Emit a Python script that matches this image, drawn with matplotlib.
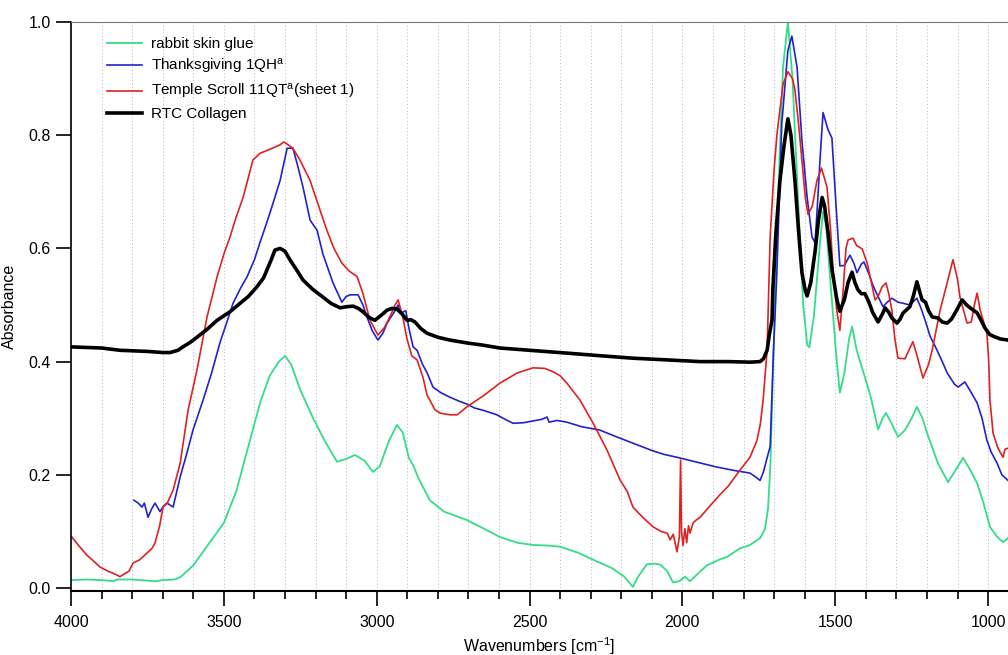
import numpy as np
import matplotlib.pyplot as plt
from matplotlib.ticker import MultipleLocator, FormatStrFormatter
plt.switch_backend('agg')

plt.rcParams['font.family'] = ['Liberation Sans', 'DejaVu Sans']
plt.rcParams['mathtext.fontset'] = 'custom'
plt.rcParams['mathtext.rm'] = 'Liberation Sans'
plt.rcParams['mathtext.it'] = 'Liberation Sans'

# rabbit skin glue
glue_w = [4000, 3950, 3900, 3860, 3850, 3800, 3750, 3720, 3700, 3660, 3640, 3600, 3560, 3520,
          3500, 3460, 3430, 3405, 3380, 3350, 3320, 3300, 3280, 3250, 3208, 3170, 3130, 3100,
          3071, 3040, 3012, 2990, 2960, 2934, 2915, 2895, 2881, 2860, 2826, 2780, 2705, 2650,
          2597, 2540, 2489, 2440, 2400, 2340, 2292, 2230, 2190, 2162, 2145, 2116, 2090, 2072,
          2050, 2031, 2010, 1992, 1975, 1960, 1920, 1880, 1854, 1812, 1779, 1746, 1730, 1720,
          1712, 1702, 1687, 1671, 1655, 1640, 1622, 1605, 1592, 1585, 1570, 1550, 1540, 1530,
          1510, 1495, 1485, 1470, 1455, 1445, 1430, 1409, 1385, 1360, 1345, 1334, 1315, 1295,
          1272, 1250, 1233, 1215, 1200, 1164, 1131, 1110, 1082, 1060, 1036, 1015, 994, 970,
          951, 935]
glue_a = [0.014, 0.015, 0.014, 0.012, 0.015, 0.015, 0.013, 0.012, 0.014, 0.015, 0.02, 0.04, 0.07, 0.10,
          0.115, 0.17, 0.23, 0.28, 0.33, 0.375, 0.40, 0.41, 0.395, 0.35, 0.30, 0.26, 0.223, 0.228,
          0.235, 0.225, 0.205, 0.215, 0.26, 0.288, 0.275, 0.23, 0.217, 0.19, 0.155, 0.135, 0.12, 0.105,
          0.09, 0.08, 0.076, 0.075, 0.073, 0.062, 0.05, 0.035, 0.02, 0.002, 0.02, 0.042, 0.043, 0.041,
          0.03, 0.01, 0.012, 0.02, 0.012, 0.02, 0.04, 0.05, 0.055, 0.07, 0.076, 0.088, 0.104, 0.14,
          0.22, 0.42, 0.69, 0.92, 1.0, 0.90, 0.69, 0.50, 0.43, 0.425, 0.48, 0.61, 0.665, 0.64,
          0.50, 0.40, 0.345, 0.38, 0.44, 0.462, 0.42, 0.383, 0.34, 0.28, 0.30, 0.309, 0.29, 0.267,
          0.279, 0.30, 0.32, 0.30, 0.274, 0.22, 0.187, 0.205, 0.23, 0.21, 0.185, 0.15, 0.108, 0.09,
          0.081, 0.088]

# Thanksgiving 1QH
qh_w = [3794, 3780, 3768, 3760, 3748, 3736, 3725, 3709, 3697, 3686, 3666, 3643, 3620, 3601,
        3568, 3540, 3513, 3490, 3470, 3445, 3424, 3400, 3382, 3360, 3339, 3316, 3293, 3274,
        3258, 3241, 3218, 3195, 3176, 3143, 3114, 3100, 3087, 3061, 3045, 3032, 3015, 2996,
        2980, 2966, 2940, 2930, 2920, 2905, 2895, 2881, 2868, 2850, 2835, 2816, 2790, 2760,
        2730, 2705, 2680, 2652, 2607, 2580, 2554, 2520, 2490, 2460, 2443, 2436, 2410, 2378,
        2330, 2270, 2220, 2162, 2100, 2060, 2018, 1980, 1942, 1890, 1834, 1800, 1779, 1760,
        1746, 1735, 1723, 1713, 1702, 1691, 1675, 1655, 1642, 1625, 1609, 1592, 1576, 1566,
        1558, 1550, 1540, 1524, 1511, 1498, 1485, 1470, 1452, 1440, 1429, 1415, 1406, 1390,
        1377, 1360, 1344, 1330, 1315, 1295, 1278, 1256, 1233, 1220, 1206, 1190, 1167, 1150,
        1134, 1110, 1098, 1076, 1055, 1036, 1020, 1004, 990, 971, 955, 935]
qh_a = [0.155, 0.15, 0.143, 0.15, 0.125, 0.14, 0.15, 0.135, 0.145, 0.15, 0.143, 0.196, 0.24, 0.279,
        0.332, 0.38, 0.433, 0.47, 0.503, 0.53, 0.55, 0.58, 0.61, 0.645, 0.68, 0.72, 0.777, 0.777,
        0.745, 0.708, 0.65, 0.632, 0.59, 0.539, 0.505, 0.515, 0.518, 0.518, 0.50, 0.479, 0.455, 0.438,
        0.45, 0.468, 0.49, 0.50, 0.486, 0.49, 0.46, 0.426, 0.42, 0.395, 0.38, 0.355, 0.345, 0.337,
        0.33, 0.325, 0.318, 0.314, 0.306, 0.298, 0.291, 0.292, 0.295, 0.298, 0.302, 0.293, 0.296, 0.293,
        0.285, 0.279, 0.268, 0.256, 0.243, 0.236, 0.231, 0.226, 0.221, 0.214, 0.208, 0.205, 0.203, 0.196,
        0.19, 0.205, 0.23, 0.25, 0.42, 0.557, 0.82, 0.95, 0.975, 0.92, 0.79, 0.69, 0.62, 0.61,
        0.68, 0.756, 0.84, 0.81, 0.795, 0.68, 0.569, 0.57, 0.588, 0.575, 0.557, 0.572, 0.576, 0.555,
        0.535, 0.515, 0.497, 0.505, 0.512, 0.505, 0.503, 0.50, 0.512, 0.495, 0.473, 0.445, 0.42, 0.40,
        0.38, 0.36, 0.355, 0.364, 0.345, 0.327, 0.30, 0.261, 0.24, 0.221, 0.20, 0.19]

# Temple Scroll 11QT (sheet 1)
qt_w = [3997, 3975, 3948, 3925, 3905, 3880, 3850, 3840, 3825, 3810, 3797, 3775, 3751, 3735,
        3725, 3710, 3699, 3685, 3666, 3643, 3617, 3588, 3555, 3522, 3500, 3480, 3460, 3437,
        3420, 3405, 3382, 3350, 3316, 3305, 3295, 3274, 3250, 3218, 3190, 3163, 3140, 3114,
        3090, 3064, 3045, 3022, 2996, 2975, 2957, 2940, 2930, 2915, 2901, 2885, 2868, 2849,
        2835, 2826, 2810, 2793, 2760, 2737, 2705, 2650, 2597, 2540, 2489, 2450, 2423, 2400,
        2378, 2335, 2292, 2247, 2204, 2180, 2162, 2130, 2096, 2070, 2050, 2040, 2030, 2022,
        2018, 2010, 2006, 2003, 1998, 1992, 1986, 1980, 1975, 1965, 1955, 1942, 1910, 1877,
        1850, 1812, 1779, 1756, 1745, 1736, 1723, 1713, 1700, 1691, 1671, 1655, 1640, 1632,
        1620, 1609, 1598, 1589, 1575, 1560, 1545, 1527, 1515, 1507, 1495, 1485, 1475, 1465,
        1458, 1442, 1430, 1412, 1396, 1380, 1370, 1360, 1347, 1334, 1325, 1315, 1305, 1295,
        1272, 1255, 1246, 1235, 1213, 1195, 1183, 1157, 1134, 1115, 1100, 1092, 1069, 1055,
        1045, 1036, 1026, 1004, 998, 994, 984, 970, 961, 951, 945, 935]
qt_a = [0.09, 0.075, 0.058, 0.047, 0.037, 0.03, 0.023, 0.02, 0.025, 0.03, 0.044, 0.05, 0.062, 0.07,
        0.08, 0.11, 0.143, 0.15, 0.173, 0.22, 0.314, 0.385, 0.479, 0.55, 0.59, 0.62, 0.655, 0.69,
        0.725, 0.756, 0.768, 0.775, 0.783, 0.788, 0.785, 0.777, 0.755, 0.72, 0.675, 0.632, 0.60, 0.574,
        0.56, 0.55, 0.52, 0.473, 0.447, 0.46, 0.479, 0.50, 0.509, 0.48, 0.44, 0.41, 0.403, 0.373,
        0.34, 0.332, 0.315, 0.309, 0.306, 0.306, 0.32, 0.34, 0.362, 0.38, 0.389, 0.388, 0.382, 0.375,
        0.362, 0.332, 0.291, 0.244, 0.191, 0.17, 0.143, 0.125, 0.108, 0.10, 0.097, 0.085, 0.095, 0.075,
        0.064, 0.09, 0.226, 0.10, 0.075, 0.105, 0.08, 0.11, 0.097, 0.115, 0.12, 0.125, 0.145, 0.165,
        0.18, 0.208, 0.231, 0.261, 0.29, 0.332, 0.42, 0.62, 0.74, 0.80, 0.89, 0.912, 0.90, 0.88,
        0.82, 0.756, 0.69, 0.66, 0.675, 0.72, 0.742, 0.708, 0.63, 0.557, 0.49, 0.455, 0.52, 0.60,
        0.615, 0.618, 0.605, 0.599, 0.575, 0.535, 0.509, 0.515, 0.532, 0.539, 0.52, 0.491, 0.44, 0.406,
        0.405, 0.425, 0.435, 0.415, 0.371, 0.395, 0.42, 0.491, 0.539, 0.58, 0.545, 0.514, 0.468, 0.47,
        0.50, 0.521, 0.491, 0.45, 0.40, 0.332, 0.274, 0.25, 0.24, 0.231, 0.245, 0.247]

# RTC Collagen
rtc_w = [4000, 3900, 3840, 3750, 3700, 3676, 3650, 3634, 3610, 3588, 3555, 3522, 3480, 3447,
         3420, 3392, 3370, 3359, 3345, 3333, 3316, 3300, 3284, 3262, 3241, 3210, 3176, 3150,
         3120, 3098, 3077, 3060, 3045, 3025, 3006, 2985, 2966, 2950, 2934, 2915, 2901, 2888,
         2875, 2855, 2835, 2800, 2760, 2705, 2652, 2597, 2500, 2378, 2260, 2162, 2050, 1942,
         1850, 1779, 1746, 1735, 1723, 1715, 1707, 1704, 1695, 1681, 1668, 1655, 1645, 1632,
         1620, 1609, 1598, 1592, 1580, 1566, 1555, 1543, 1535, 1524, 1510, 1495, 1485, 1470,
         1458, 1445, 1436, 1426, 1415, 1403, 1390, 1377, 1360, 1345, 1337, 1325, 1315, 1298,
         1288, 1278, 1256, 1245, 1233, 1222, 1216, 1205, 1195, 1183, 1164, 1150, 1134, 1120,
         1108, 1085, 1070, 1059, 1046, 1036, 1025, 1010, 995, 984, 960, 935]
rtc_a = [0.426, 0.424, 0.42, 0.418, 0.416, 0.416, 0.42, 0.426, 0.434, 0.443, 0.457, 0.473, 0.488, 0.503,
         0.515, 0.532, 0.548, 0.562, 0.58, 0.597, 0.60, 0.595, 0.58, 0.562, 0.544, 0.528, 0.514, 0.503,
         0.495, 0.497, 0.498, 0.494, 0.488, 0.478, 0.473, 0.482, 0.491, 0.494, 0.493, 0.483, 0.473, 0.474,
         0.47, 0.458, 0.45, 0.443, 0.438, 0.433, 0.429, 0.424, 0.42, 0.415, 0.41, 0.406, 0.403, 0.40,
         0.40, 0.399, 0.40, 0.405, 0.42, 0.45, 0.473, 0.53, 0.62, 0.72, 0.78, 0.829, 0.80, 0.72,
         0.63, 0.557, 0.525, 0.516, 0.54, 0.595, 0.65, 0.69, 0.675, 0.629, 0.56, 0.51, 0.489, 0.51,
         0.54, 0.558, 0.54, 0.527, 0.52, 0.52, 0.505, 0.486, 0.47, 0.485, 0.495, 0.487, 0.477, 0.468,
         0.475, 0.486, 0.497, 0.515, 0.541, 0.52, 0.509, 0.505, 0.49, 0.479, 0.477, 0.47, 0.468, 0.475,
         0.486, 0.509, 0.50, 0.495, 0.49, 0.486, 0.475, 0.459, 0.448, 0.445, 0.44, 0.438]

labels = ['rabbit skin glue', 'Thanksgiving 1QH$^{\\mathrm{a}}$',
          'Temple Scroll 11QT$^{\\mathrm{a}}$(sheet 1)', 'RTC Collagen']

fig = plt.figure(figsize=(10.08, 6.55), dpi=100)
ax = fig.add_axes([71 / 1008, 64 / 655, 937 / 1008, 569 / 655])

ax.plot(glue_w, glue_a, color='#33dd88', lw=1.3, label=labels[0])
ax.plot(qh_w, qh_a, color='#2222cc', lw=1.2, label=labels[1])
ax.plot(qt_w, qt_a, color='#dd2222', lw=1.2, label=labels[2])
ax.plot(rtc_w, rtc_a, color='black', lw=2.6, label=labels[3])

ax.set_xlim(4000, 935)
ax.set_ylim(-0.0053, 1.0)
ax.xaxis.set_major_locator(MultipleLocator(500))
ax.xaxis.set_minor_locator(MultipleLocator(100))
ax.yaxis.set_major_locator(MultipleLocator(0.2))
ax.yaxis.set_major_formatter(FormatStrFormatter('%.1f'))
ax.tick_params(axis='x', which='major', length=11, width=1.2, labelsize=11.5, pad=6)
ax.tick_params(axis='x', which='minor', length=6, width=1.2)
ax.tick_params(axis='y', which='major', length=11, width=1.2, labelsize=11.5)

ax.grid(True, axis='x', which='both', color='#b4b4c8', lw=0.7, linestyle=(0, (1, 2.5)))
ax.set_axisbelow(True)
ax.spines['right'].set_visible(False)
ax.spines['top'].set_color('#777777')
ax.spines['left'].set_linewidth(1.2)
ax.spines['bottom'].set_linewidth(1.5)

ax.set_xlabel('Wavenumbers [cm$^{-1}$]', fontsize=11.5, labelpad=4)
ax.set_ylabel('Absorbance', fontsize=11.5, labelpad=8)

ax.legend(loc='upper left', bbox_to_anchor=(0.025, 0.995), frameon=False, fontsize=11,
          handlelength=2.3, labelspacing=0.4, handletextpad=0.6, borderpad=0.3)

fig.savefig('out.png', dpi=100)
